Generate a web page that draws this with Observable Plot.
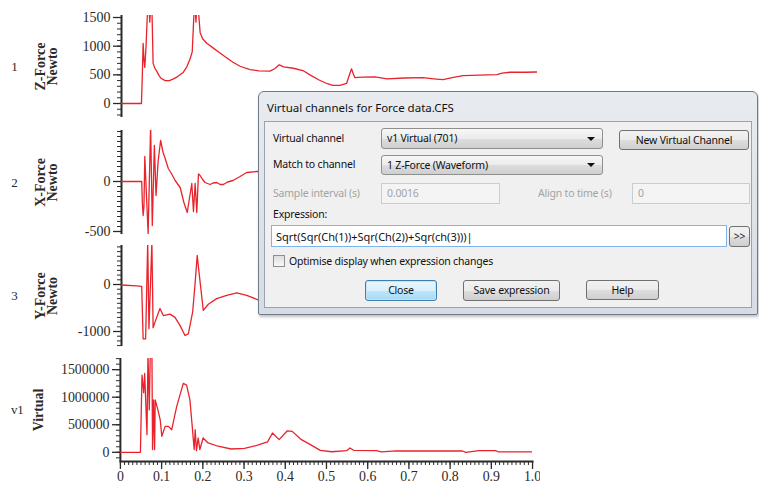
<!DOCTYPE html>
<html>
<head>
<meta charset="utf-8">
<script src="https://cdn.jsdelivr.net/npm/d3@7"></script>
<script src="https://cdn.jsdelivr.net/npm/@observablehq/plot@0.6"></script>
<style>
  html, body { margin: 0; padding: 0; background: #fff; }
  #root { position: relative; width: 759px; height: 485px; overflow: hidden; background: #fff; }
  .panel { position: absolute; left: 0; overflow: hidden; }
  .panel svg { display: block; overflow: visible; }
  #dlg { position: absolute; left: 258px; top: 91px; width: 498px; height: 222px;
    border: 1px solid #6f7b88; border-radius: 6px 6px 2px 2px;
    background: linear-gradient(#e8ebef, #d6dce3); box-shadow: 1px 2px 3px rgba(0,0,0,0.25); }
  .ui { position: absolute; font-family: "Noto Sans", sans-serif; font-size: 10.5px; letter-spacing: -0.2px; color: #111; white-space: nowrap; line-height: 15px; }
  .client { position: absolute; left: 264px; top: 121px; width: 486px; height: 185px; background: #f0f0f0; border: 1px solid #9ba4ae; }
  .gray { color: #a3a3a3; }
  .combo { border: 1px solid #8e8f8f; border-radius: 3px; background: linear-gradient(#f7f7f7 0%, #ebebeb 50%, #dddddd 51%, #cfcfcf 100%); box-sizing: border-box; padding-left: 5px; display: flex; align-items: center; }
  .combo .arr { position: absolute; right: 7px; top: 50%; margin-top: -2px; width: 0; height: 0; border-left: 4px solid transparent; border-right: 4px solid transparent; border-top: 4px solid #111; }
  .btn { border: 1px solid #707070; border-radius: 3px; background: linear-gradient(#f2f2f2 0%, #ebebeb 50%, #dddddd 51%, #cfcfcf 100%); box-sizing: border-box; display: flex; align-items: center; justify-content: center; }
  .btn.focus { border-color: #3c7fb1; background: linear-gradient(#eaf6fd 0%, #d9f0fc 50%, #bee6fd 51%, #a7d9f5 100%); box-shadow: inset 0 0 0 1px #c6e4f7; }
  .tb { border: 1px solid #c9ccd1; background: #f4f4f4; box-sizing: border-box; padding-left: 5px; display: flex; align-items: center; }
  .expr { border: 1px solid #7eb4ea; background: #fff; box-sizing: border-box; padding-left: 4px; display: flex; align-items: center; font-size: 11px; letter-spacing: 0; }
  .chk { position: absolute; border: 1px solid #8f8f8f; background: linear-gradient(#dedede, #f8f8f8); box-sizing: border-box; }
</style>
</head>
<body>
<div id="root"></div>
<script>
// ---------- data (time in s, value) ----------
const zForce = [[0,0],[0.048,0],[0.05,480],[0.052,1050],[0.054,760],[0.056,630],[0.059,1000],[0.063,1700],[0.066,1700],[0.068,1420],[0.07,1700],[0.073,1700],[0.076,700],[0.08,620],[0.085,560],[0.09,490],[0.095,440],[0.105,400],[0.115,400],[0.125,430],[0.135,470],[0.148,540],[0.157,640],[0.165,780],[0.17,900],[0.175,1700],[0.177,1700],[0.179,1420],[0.181,1700],[0.184,1700],[0.189,1240],[0.195,1130],[0.205,1050],[0.22,970],[0.235,890],[0.25,810],[0.268,720],[0.285,650],[0.309,590],[0.33,570],[0.357,565],[0.369,610],[0.379,675],[0.39,640],[0.413,615],[0.436,575],[0.455,490],[0.475,410],[0.495,345],[0.508,315],[0.525,315],[0.541,350],[0.547,480],[0.553,605],[0.557,520],[0.561,450],[0.58,460],[0.61,465],[0.638,430],[0.68,445],[0.725,450],[0.75,430],[0.773,415],[0.795,450],[0.821,485],[0.86,495],[0.902,505],[0.915,530],[0.934,545],[0.97,545],[0.998,550]];

const xForce = [[0,0],[0.0486,0],[0.05,-200],[0.052,-340],[0.054,-250],[0.056,250],[0.064,-520],[0.07,560],[0.074,-440],[0.079,360],[0.083,-140],[0.088,200],[0.094,410],[0.1,290],[0.105,230],[0.1125,130],[0.12,80],[0.129,10],[0.141,-60],[0.15,-210],[0.158,-310],[0.169,-20],[0.173,-300],[0.177,-20],[0.181,-310],[0.185,75],[0.189,60],[0.195,20],[0.201,-10],[0.213,-30],[0.22,-15],[0.229,-10],[0.237,-30],[0.245,-30],[0.255,-5],[0.268,10],[0.285,50],[0.301,90],[0.325,100],[0.36,100],[0.42,80],[0.5,60],[0.6,70],[0.7,80],[0.8,75],[0.9,80],[1.0,80]];

const yForce = [[0,-10],[0.036,-30],[0.0486,-40],[0.052,-1155],[0.058,-1155],[0.063,900],[0.066,-940],[0.073,900],[0.076,-920],[0.0805,-800],[0.0925,-510],[0.1005,-660],[0.1166,-630],[0.1286,-700],[0.1406,-870],[0.1526,-1085],[0.1606,-1050],[0.171,-590],[0.1767,0],[0.182,620],[0.1846,400],[0.1966,-550],[0.2087,-420],[0.2288,-300],[0.2529,-230],[0.277,-180],[0.301,-230],[0.329,-330],[0.37,-360],[0.45,-300],[0.55,-280],[0.65,-250],[0.75,-240],[0.85,-230],[1.0,-230]];

const virtual = [[0,0],[0.0486,0],[0.0524,1400000],[0.0565,1080000],[0.0589,1430000],[0.0645,320000],[0.0669,1800000],[0.0701,770000],[0.0725,1800000],[0.0765,1800000],[0.078,50000],[0.0805,950000],[0.083,50000],[0.0845,950000],[0.091,770000],[0.0966,590000],[0.1005,290000],[0.1086,470000],[0.1166,470000],[0.1245,410000],[0.1365,830000],[0.1526,1250000],[0.1606,1220000],[0.1687,950000],[0.1743,470000],[0.179,50000],[0.1815,410000],[0.1846,30000],[0.1887,260000],[0.1928,50000],[0.2007,260000],[0.2127,170000],[0.2368,110000],[0.2688,60000],[0.301,70000],[0.333,130000],[0.357,190000],[0.369,350000],[0.385,230000],[0.405,390000],[0.417,380000],[0.437,240000],[0.461,140000],[0.485,36000],[0.513,10000],[0.549,30000],[0.557,78000],[0.566,36000],[0.621,30000],[0.633,6000],[0.669,24000],[0.83,24000],[0.838,0],[0.87,30000],[0.91,30000],[0.918,6000],[0.998,6000]];

// ---------- ticks & labels ----------
const zTicks = [0, 500, 1000, 1500];
const xForceTicks = [0, -500];
const yForceTicks = [0, -1000];
const vTicks = [0, 500000, 1000000, 1500000];
const timeTicks = [0, 0.1, 0.2, 0.3, 0.4, 0.5, 0.6, 0.7, 0.8, 0.9, 1.0];
const timeTickLabels = ["0", "0.1", "0.2", "0.3", "0.4", "0.5", "0.6", "0.7", "0.8", "0.9", "1.0"];
const channelNumbers = ["1", "2", "3", "v1"];
const channelTitles = ["Z-Force", "X-Force", "Y-Force", "Virtual"];
const channelUnits = ["Newto", "Newto", "Newto", ""];

// ---------- layout ----------
const RED = "#e8232b";
const INK = "#2a2a2a";
const W = 545, ML = 121, MR = 8;

const panels = [
  {data: zForce, domain: [-244, 1535], top: 0, height: 120, mt: 15, mb: 3, majors: zTicks, minors: d3.range(-200, 1501, 100)},
  {data: xForce, domain: [-530, 510], top: 125, height: 115, mt: 5, mb: 6, majors: xForceTicks, minors: d3.range(-500, 501, 50)},
  {data: yForce, domain: [-1319, 830], top: 240, height: 115, mt: 5, mb: 9, majors: yForceTicks, minors: d3.range(-1300, 801, 100)},
  {data: virtual, domain: [-167000, 1703000], top: 355, height: 130, mt: 3, mb: 23, majors: vTicks, minors: d3.range(-100000, 1700001, 100000), xAxis: true}
];

const root = document.getElementById("root");

panels.forEach((p, i) => {
  const marks = [
    Plot.axisY(p.minors, {anchor: "left", tickSize: 4, tickFormat: () => "", label: null, stroke: INK, strokeWidth: 1}),
    Plot.axisY(p.majors, {anchor: "left", tickSize: 8, tickPadding: 3, tickFormat: d => String(d), label: null, stroke: INK, strokeWidth: 1.3}),
    Plot.ruleX([0], {stroke: INK, strokeWidth: 2}),
    Plot.line(p.data, {x: d => d[0], y: d => d[1], stroke: RED, strokeWidth: 1.3, clip: true}),
    Plot.text([channelNumbers[i]], {text: d => d, frameAnchor: "left", textAnchor: "middle", dx: channelNumbers[i].length > 1 ? -104 : -107, fontSize: 13, fill: INK}),
    Plot.text([channelTitles[i]], {text: d => d, frameAnchor: "left", textAnchor: "middle", dx: channelUnits[i] ? -81 : -83, rotate: -90, fontSize: 14, fontWeight: "bold", fill: INK})
  ];
  if (channelUnits[i]) {
    marks.push(Plot.text([channelUnits[i]], {text: d => d, frameAnchor: "left", textAnchor: "middle", dx: -69, rotate: -90, fontSize: 14, fontWeight: "bold", fill: INK}));
  }
  if (p.xAxis) {
    marks.push(
      Plot.axisX(d3.range(0, 1.0001, 0.01), {anchor: "bottom", tickSize: 4, tickFormat: () => "", label: null, stroke: INK, strokeWidth: 1}),
      Plot.axisX(timeTicks, {anchor: "bottom", tickSize: 8, tickPadding: 2, tickFormat: (d, j) => timeTickLabels[j], label: null, stroke: INK, strokeWidth: 1.3}),
      Plot.frame({anchor: "bottom", stroke: INK, strokeWidth: 2})
    );
  }
  const chart = Plot.plot({
    width: W, height: p.height,
    marginLeft: ML, marginRight: MR, marginTop: p.mt, marginBottom: p.mb,
    x: {domain: [0, 1], axis: null},
    y: {domain: p.domain, axis: null},
    style: {fontFamily: "'Liberation Serif', 'Times New Roman', serif", fontSize: "14px", color: INK, background: "transparent", overflow: "visible"},
    marks
  });
  const wrap = document.createElement("div");
  wrap.className = "panel";
  wrap.style.top = p.top + "px";
  wrap.style.width = (p.xAxis ? 540 : W) + "px";
  wrap.style.height = p.height + "px";
  wrap.appendChild(chart);
  root.appendChild(wrap);
});

// ---------- dialog overlay (screenshot UI) ----------
const ui = [
  {cls: "client", x: 264, y: 121},
  {cls: "ui", x: 267, y: 100, text: "Virtual channels for Force data.CFS", style: "font-size:11.5px;letter-spacing:0"},
  {cls: "ui", x: 273, y: 131, text: "Virtual channel"},
  {cls: "ui combo", x: 381, y: 128, w: 222, h: 21, text: "v1 Virtual (701)", arrow: true},
  {cls: "ui btn", x: 619, y: 130, w: 130, h: 20, text: "New Virtual Channel"},
  {cls: "ui", x: 273, y: 157, text: "Match to channel"},
  {cls: "ui combo", x: 381, y: 155, w: 222, h: 20, text: "1 Z-Force (Waveform)", arrow: true},
  {cls: "ui gray", x: 273, y: 186, text: "Sample interval (s)"},
  {cls: "ui tb gray", x: 381, y: 183, w: 119, h: 21, text: "0.0016"},
  {cls: "ui gray", x: 538, y: 186, text: "Align to time (s)"},
  {cls: "ui tb gray", x: 632, y: 183, w: 118, h: 21, text: "0"},
  {cls: "ui", x: 273, y: 207, text: "Expression:"},
  {cls: "ui expr", x: 271, y: 225, w: 456, h: 22, text: "Sqrt(Sqr(Ch(1))+Sqr(Ch(2))+Sqr(ch(3)))|"},
  {cls: "ui btn", x: 729, y: 226, w: 21, h: 21, text: ">>"},
  {cls: "chk", x: 273, y: 255, w: 12, h: 12},
  {cls: "ui", x: 289, y: 254, text: "Optimise display when expression changes"},
  {cls: "ui btn focus", x: 365, y: 280, w: 72, h: 21, text: "Close"},
  {cls: "ui btn", x: 463, y: 280, w: 97, h: 21, text: "Save expression"},
  {cls: "ui btn", x: 586, y: 280, w: 73, h: 20, text: "Help"}
];
const dlg = document.createElement("div");
dlg.id = "dlg";
root.appendChild(dlg);
ui.forEach(u => {
  const el = document.createElement("div");
  el.className = u.cls;
  el.style.left = u.x + "px";
  el.style.top = u.y + "px";
  if (u.w) el.style.width = u.w + "px";
  if (u.h) el.style.height = u.h + "px";
  if (u.style) el.style.cssText += u.style;
  if (u.text) el.appendChild(document.createTextNode(u.text));
  if (u.arrow) { const a = document.createElement("span"); a.className = "arr"; el.appendChild(a); }
  root.appendChild(el);
});
</script>
</body>
</html>
